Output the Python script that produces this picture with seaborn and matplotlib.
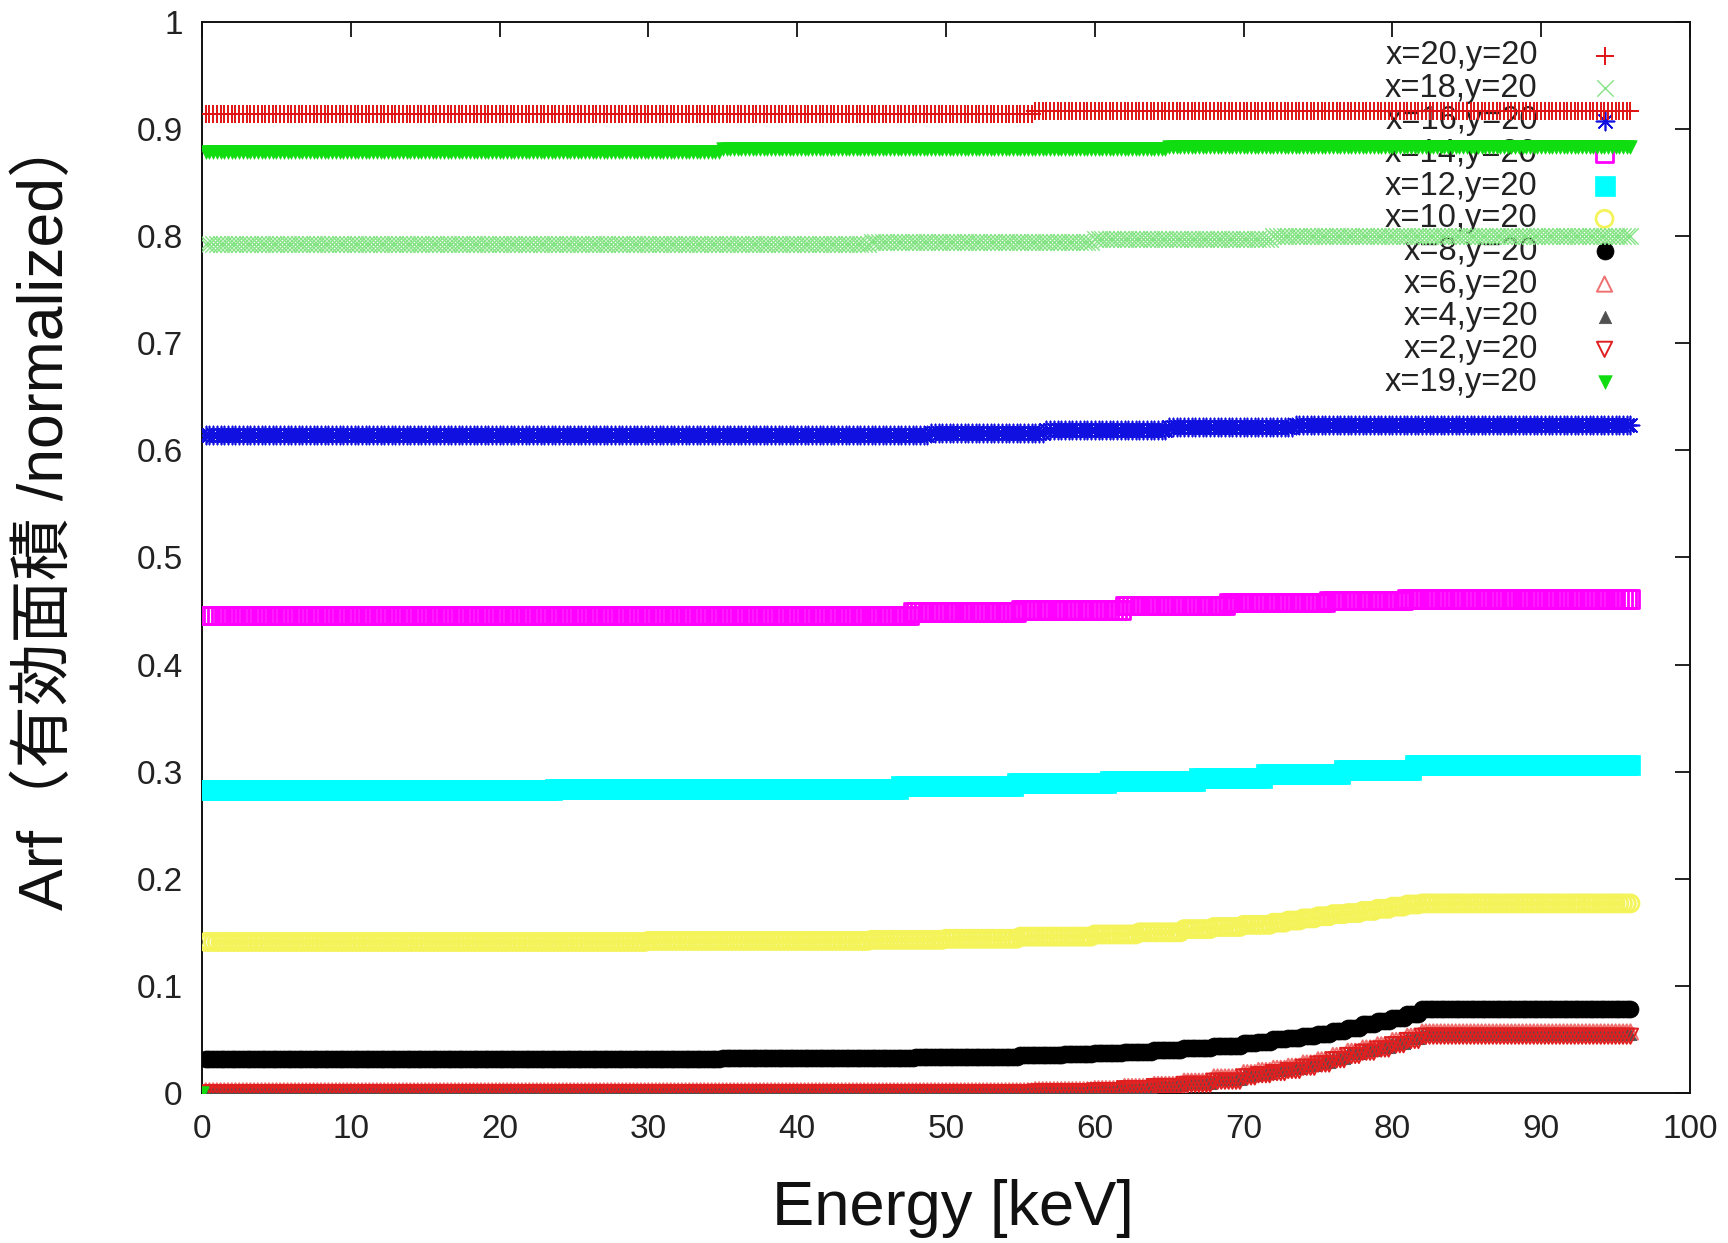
import numpy as np
import pandas as pd
import matplotlib
matplotlib.use("Agg")
import matplotlib.pyplot as plt
import seaborn as sns

# Energy bins (keV) at which the effective area was evaluated
energy_kev = np.arange(0.25, 96.01, 0.25)

# Each response is tabulated as piecewise levels: the bin edge (keV) where a
# level starts, and the normalized effective area from that edge onward.
arf_x20_edges = [0, 56]
arf_x20_levels = [0.914, 0.917]

arf_x18_edges = [0, 45, 60, 72]
arf_x18_levels = [0.793, 0.795, 0.797, 0.800]

arf_x16_edges = [0, 48.8, 56.7, 64.9, 73.5]
arf_x16_levels = [0.614, 0.6165, 0.619, 0.6215, 0.624]

arf_x14_edges = [0, 47.7, 55, 62, 69, 75.6, 81]
arf_x14_levels = [0.446, 0.449, 0.451, 0.455, 0.458, 0.460, 0.461]

arf_x12_edges = [0, 23.6, 47, 54.7, 60.8, 66.9, 71.5, 76.6, 81.3]
arf_x12_levels = [0.283, 0.284, 0.2868, 0.2893, 0.2917, 0.2945, 0.298, 0.3015, 0.3065]

arf_x10_edges = [0, 30, 45, 50, 55, 60, 63, 66, 68, 70, 72, 73, 74, 75, 76, 77, 78, 79, 80, 81, 82]
arf_x10_levels = [0.141, 0.142, 0.143, 0.144, 0.146, 0.148, 0.150, 0.153, 0.155, 0.157, 0.159,
                  0.161, 0.163, 0.165, 0.167, 0.168, 0.170, 0.172, 0.174, 0.176, 0.177]

arf_x8_edges = [0, 35, 48, 55, 58, 60, 62, 64, 66, 68, 70, 71, 72, 73, 74, 75, 76, 77, 78, 79, 80, 81, 82]
arf_x8_levels = [0.032, 0.033, 0.034, 0.035, 0.036, 0.037, 0.038, 0.040, 0.042, 0.044, 0.047, 0.048,
                 0.050, 0.051, 0.053, 0.055, 0.058, 0.061, 0.064, 0.067, 0.070, 0.074, 0.078]

low_edges = [0, 56, 60, 62, 64, 66, 68, 70, 71, 72, 73, 74, 75, 76, 77, 78, 79, 80, 81, 82]
arf_x6_levels = [0.002, 0.003, 0.004, 0.006, 0.008, 0.011, 0.015, 0.019, 0.021, 0.023,
                 0.025, 0.028, 0.031, 0.035, 0.039, 0.042, 0.045, 0.049, 0.053, 0.057]
arf_x4_levels = [0.001, 0.002, 0.003, 0.005, 0.007, 0.009, 0.013, 0.017, 0.019, 0.021,
                 0.023, 0.026, 0.029, 0.033, 0.037, 0.040, 0.043, 0.047, 0.051, 0.055]
arf_x2_levels = [0.000, 0.001, 0.002, 0.004, 0.006, 0.008, 0.011, 0.015, 0.017, 0.019,
                 0.021, 0.024, 0.027, 0.031, 0.035, 0.038, 0.041, 0.045, 0.049, 0.053]

arf_x19_edges = [0, 35, 65]
arf_x19_levels = [0.879, 0.881, 0.883]
# the x=19 file also carries a zero entry in its first (0 keV) bin
arf_x19_first_energy = [0.0]
arf_x19_first_value = [0.0]

x_ticks = [0, 10, 20, 30, 40, 50, 60, 70, 80, 90, 100]
x_tick_labels = ["0", "10", "20", "30", "40", "50", "60", "70", "80", "90", "100"]
y_ticks = [0, 0.1, 0.2, 0.3, 0.4, 0.5, 0.6, 0.7, 0.8, 0.9, 1.0]
y_tick_labels = ["0", "0.1", "0.2", "0.3", "0.4", "0.5", "0.6", "0.7", "0.8", "0.9", "1"]


def on_grid(edges, levels):
    """Look up the tabulated level that applies to every energy bin."""
    idx = np.searchsorted(np.asarray(edges), energy_kev, side="right") - 1
    return np.asarray(levels)[idx]


def frame(values, label, energies=energy_kev):
    return pd.DataFrame({"energy": energies, "arf": values, "position": label})


series = [
    # label, data, marker, size(pt^2), face, edge, linewidth
    ("x=20,y=20", frame(on_grid(arf_x20_edges, arf_x20_levels), "x=20,y=20"), "+", 170, None, "#e01414", 1.4),
    ("x=18,y=20", frame(on_grid(arf_x18_edges, arf_x18_levels), "x=18,y=20"), "x", 140, None, "#84e484", 1.0),
    ("x=16,y=20", frame(on_grid(arf_x16_edges, arf_x16_levels), "x=16,y=20"), (8, 2, 0), 170, None, "#1010e0", 1.2),
    ("x=14,y=20", frame(on_grid(arf_x14_edges, arf_x14_levels), "x=14,y=20"), "s", 160, "none", "#ff00ff", 2.0),
    ("x=12,y=20", frame(on_grid(arf_x12_edges, arf_x12_levels), "x=12,y=20"), "s", 220, "#00ffff", "#00ffff", 0.5),
    ("x=10,y=20", frame(on_grid(arf_x10_edges, arf_x10_levels), "x=10,y=20"), "o", 150, "none", "#f4f45a", 2.0),
    ("x=8,y=20", frame(on_grid(arf_x8_edges, arf_x8_levels), "x=8,y=20"), "o", 150, "#000000", "#000000", 0.5),
    ("x=6,y=20", frame(on_grid(low_edges, arf_x6_levels), "x=6,y=20"), "^", 120, "none", "#f07070", 1.4),
    ("x=4,y=20", frame(on_grid(low_edges, arf_x4_levels), "x=4,y=20"), "^", 80, "#505050", "#505050", 0.5),
    ("x=2,y=20", frame(on_grid(low_edges, arf_x2_levels), "x=2,y=20"), "v", 120, "none", "#e02020", 1.4),
    ("x=19,y=20",
     pd.concat([frame(arf_x19_first_value, "x=19,y=20", arf_x19_first_energy),
                frame(on_grid(arf_x19_edges, arf_x19_levels), "x=19,y=20")], ignore_index=True),
     "v", 95, "#10dd10", "#10dd10", 0.5),
]

sns.set_theme(style="white")
plt.rcParams["font.family"] = ["Liberation Sans", "Noto Sans CJK JP", "DejaVu Sans"]
plt.rcParams["axes.unicode_minus"] = False

fig = plt.figure(figsize=(17.28, 12.43), dpi=100)
ax = fig.add_axes([0.1169, 0.1207, 0.8611, 0.8616])

for label, df, marker, size, face, edge, lw in series:
    kws = dict(marker=marker, s=size, linewidth=lw, zorder=3, label=label)
    if face is None:
        kws["color"] = edge
        kws["edgecolor"] = None
    else:
        kws["facecolor"] = face
        kws["edgecolor"] = edge
    sns.scatterplot(data=df, x="energy", y="arf", ax=ax, legend=False, **kws)

ax.set_xlim(0, 100)
ax.set_ylim(0, 1)
ax.set_xticks(x_ticks)
ax.set_xticklabels(x_tick_labels)
ax.set_yticks(y_ticks)
ax.set_yticklabels(y_tick_labels)
ax.tick_params(axis="both", direction="in", length=11, width=1.3, colors="#111111",
               labelcolor="#222222", labelsize=24, top=True, right=True)
ax.tick_params(axis="x", pad=15)
ax.tick_params(axis="y", pad=14)
for sp in ax.spines.values():
    sp.set_visible(True)
    sp.set_color("#111111")
    sp.set_linewidth(1.4)
ax.grid(False)

ax.set_xlabel("Energy [keV]", fontsize=45.5, color="#111111")
ax.xaxis.label.set_va("center")
ax.xaxis.set_label_coords(0.505, -0.108)
ax.set_ylabel("Arf（有効面積 /normalized）", fontsize=45, color="#111111")
ax.yaxis.label.set_va("center")
ax.yaxis.set_label_coords(-0.105, 0.542)

handles, labels = ax.get_legend_handles_labels()
leg = ax.legend(handles, labels, loc="upper right", bbox_to_anchor=(0.970, 0.983),
                frameon=False, markerfirst=False, fontsize=23.5, labelspacing=0.05,
                handletextpad=0.8, handlelength=2.5, borderpad=0, borderaxespad=0,
                scatterpoints=1, labelcolor="#222222")
leg.set_zorder(1)

fig.savefig("out.png", dpi=100, facecolor="white")
